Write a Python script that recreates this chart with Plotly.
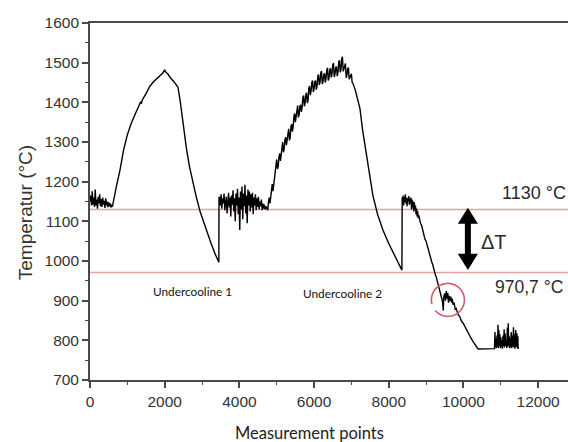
import math
import plotly.graph_objects as go

start_noise = [(0, 1150), (20, 1165), (40, 1140), (60, 1176), (80, 1142), (100, 1160), (120, 1136),
               (140, 1180), (160, 1140), (180, 1155), (200, 1132), (220, 1162), (240, 1145), (260, 1168),
               (280, 1138), (300, 1156), (320, 1136), (340, 1160), (360, 1142), (380, 1152), (400, 1134),
               (420, 1158), (440, 1140), (460, 1150), (480, 1136), (500, 1148), (520, 1138), (540, 1145),
               (560, 1135), (580, 1142), (600, 1137)]

heating_1 = [(620, 1145), (700, 1185), (800, 1228), (900, 1280), (1000, 1318), (1100, 1346), (1200, 1368),
             (1300, 1388), (1350, 1400), (1380, 1398), (1400, 1406), (1500, 1422), (1600, 1440), (1700, 1452),
             (1800, 1461), (1900, 1468), (1950, 1474), (2000, 1482), (2030, 1476), (2080, 1472), (2150, 1462),
             (2250, 1452), (2356, 1438), (2420, 1400), (2500, 1340), (2580, 1285), (2660, 1240), (2750, 1200),
             (2850, 1160), (2950, 1124), (3050, 1095), (3150, 1068), (3250, 1042), (3350, 1018), (3450, 997),
             (3455, 1160)]

hold_1 = [(3470, 1160), (3490, 1140), (3510, 1168), (3530, 1132), (3550, 1158), (3570, 1145), (3590, 1170),
          (3610, 1128), (3630, 1155), (3650, 1162), (3670, 1120), (3690, 1150), (3710, 1172), (3730, 1135),
          (3750, 1160), (3770, 1112), (3790, 1165), (3810, 1142), (3830, 1178), (3850, 1125), (3870, 1158),
          (3890, 1100), (3910, 1170), (3930, 1140), (3950, 1182), (3970, 1118), (3990, 1160), (4010, 1078),
          (4030, 1175), (4050, 1130), (4070, 1188), (4090, 1105), (4110, 1170), (4130, 1138), (4150, 1192),
          (4170, 1120), (4190, 1165), (4210, 1095), (4230, 1180), (4250, 1140), (4270, 1175), (4290, 1125),
          (4310, 1168), (4330, 1135), (4350, 1172), (4370, 1118), (4390, 1160), (4410, 1140), (4430, 1168),
          (4450, 1128), (4470, 1158), (4490, 1136), (4510, 1162), (4530, 1130), (4550, 1150), (4570, 1138),
          (4590, 1155), (4610, 1128), (4630, 1145), (4650, 1132), (4670, 1142), (4690, 1130), (4710, 1138),
          (4730, 1134)]

heating_2 = [(4760, 1128), (4780, 1150), (4800, 1160), (4820, 1145), (4840, 1159), (4860, 1178), (4880, 1194),
             (4900, 1176), (4920, 1190), (4940, 1215), (4960, 1224), (4980, 1236), (5000, 1256), (5020, 1232),
             (5040, 1239), (5060, 1262), (5080, 1271), (5100, 1252), (5120, 1268), (5140, 1290), (5160, 1300),
             (5180, 1274), (5200, 1283), (5220, 1305), (5240, 1312), (5260, 1292), (5280, 1306), (5300, 1325),
             (5320, 1333), (5340, 1304), (5360, 1311), (5380, 1338), (5400, 1345), (5420, 1326), (5440, 1338),
             (5460, 1364), (5480, 1372), (5500, 1350), (5520, 1363), (5540, 1385), (5560, 1392), (5580, 1362),
             (5600, 1369), (5620, 1390), (5640, 1394), (5660, 1376), (5680, 1387), (5700, 1412), (5720, 1417),
             (5740, 1390), (5760, 1398), (5780, 1420), (5800, 1424), (5820, 1398), (5840, 1406), (5860, 1436),
             (5880, 1441), (5900, 1418), (5920, 1428), (5940, 1450), (5960, 1455), (5980, 1426), (6000, 1434),
             (6020, 1452), (6040, 1455), (6060, 1432), (6080, 1440), (6100, 1466), (6120, 1470), (6140, 1444),
             (6160, 1451), (6180, 1475), (6200, 1479), (6220, 1446), (6240, 1452), (6260, 1470), (6280, 1473),
             (6300, 1450), (6320, 1459), (6340, 1482), (6360, 1487), (6380, 1455), (6400, 1460), (6420, 1482),
             (6440, 1486), (6460, 1463), (6480, 1471), (6500, 1494), (6520, 1499), (6540, 1464), (6560, 1471),
             (6580, 1488), (6600, 1490), (6620, 1466), (6640, 1474), (6660, 1502), (6680, 1506), (6700, 1476),
             (6720, 1482), (6740, 1510), (6760, 1515), (6780, 1478), (6800, 1485), (6820, 1495), (6840, 1498),
             (6860, 1462), (6880, 1468), (6900, 1484), (6920, 1488), (6940, 1458), (6960, 1464), (6980, 1470),
             (7000, 1472), (7020, 1450), (7040, 1448)]

cooling_2 = [(7100, 1432), (7160, 1412), (7228, 1385), (7300, 1330), (7400, 1270), (7495, 1212), (7576, 1165),
             (7700, 1118), (7844, 1078), (8000, 1044), (8150, 1015), (8250, 995), (8352, 977), (8360, 1160)]

hold_2 = [(8370, 1150), (8385, 1165), (8400, 1140), (8415, 1162), (8430, 1148), (8445, 1168), (8460, 1145),
          (8475, 1160), (8490, 1138), (8505, 1158), (8520, 1150), (8535, 1164), (8550, 1142), (8565, 1158),
          (8580, 1145), (8595, 1160), (8610, 1130), (8625, 1155), (8640, 1135), (8655, 1150), (8670, 1125),
          (8685, 1148), (8700, 1130), (8715, 1140), (8730, 1118), (8745, 1132), (8760, 1112), (8775, 1125),
          (8790, 1108), (8805, 1115)]

solidification = [(8820, 1108), (8850, 1095), (8880, 1090), (8910, 1075), (8940, 1068), (8970, 1055), (9000, 1050),
                  (9030, 1038), (9060, 1032), (9090, 1018), (9120, 1010), (9150, 998), (9180, 990), (9210, 975),
                  (9240, 968), (9270, 960), (9300, 948), (9330, 940), (9360, 928), (9390, 918), (9420, 905),
                  (9440, 898), (9460, 875), (9475, 910), (9500, 918), (9520, 900), (9540, 924), (9560, 905),
                  (9580, 920), (9600, 895), (9620, 912), (9640, 900), (9660, 910), (9680, 895), (9700, 905),
                  (9720, 890), (9750, 895), (9780, 878), (9810, 880), (9850, 866), (9900, 860), (9950, 848),
                  (10000, 842), (10050, 832), (10092, 824), (10150, 815), (10200, 806), (10250, 798), (10300, 790),
                  (10350, 784), (10387, 779)]

end_flat = [(10400, 778), (10800, 778), (10830, 779), (10845, 821), (10855, 782), (10870, 805), (10880, 780),
            (10900, 812), (10912, 784), (10925, 839), (10935, 781), (10950, 826), (10962, 786), (10975, 815),
            (10988, 780), (11000, 808), (11015, 783), (11030, 800), (11045, 779), (11060, 812), (11075, 785),
            (11090, 828), (11100, 782), (11115, 818), (11130, 786), (11145, 800), (11160, 781), (11175, 832),
            (11190, 784), (11200, 843), (11212, 788), (11225, 810), (11238, 780), (11250, 805), (11265, 783),
            (11280, 821), (11292, 780), (11310, 812), (11325, 784), (11340, 833), (11352, 782), (11368, 815),
            (11380, 779), (11400, 826), (11415, 784), (11430, 818), (11445, 780), (11457, 810), (11465, 778)]

threshold_values = [1130, 970.7]
threshold_labels = ["1130 °C", "970,7 °C"]
x_ticks = [0, 2000, 4000, 6000, 8000, 10000, 12000]
x_tick_text = ["0", "2000", "4000", "6000", "8000", "10000", "12000"]
y_ticks = [700, 800, 900, 1000, 1100, 1200, 1300, 1400, 1500, 1600]

segments = [start_noise, heating_1, hold_1, heating_2, cooling_2, hold_2, solidification, end_flat]
xs = [p[0] for s in segments for p in s]
ys = [p[1] for s in segments for p in s]

SANS = "Liberation Sans, Arial, sans-serif"
TICKFONT = dict(family=SANS, size=15.5, color="#333333")
AX = "#4a4a4a"
RED = "#e3a3a3"

fig = go.Figure()
fig.add_trace(go.Scatter(x=xs, y=ys, mode="lines", line=dict(color="black", width=1.4),
                         showlegend=False, hoverinfo="skip"))

for v in threshold_values:
    fig.add_shape(type="line", xref="x", yref="y", x0=0, x1=12800, y0=v, y1=v,
                  line=dict(color=RED, width=1.5), layer="below")

fig.add_annotation(x=10976, y=1171, xref="x", yref="y", text=threshold_labels[0], showarrow=False,
                   xanchor="left", yanchor="middle", font=dict(family=SANS, size=18, color="#2a2a2a"))
fig.add_annotation(x=10790, y=934, xref="x", yref="y", text=threshold_labels[1], showarrow=False,
                   xanchor="left", yanchor="middle", font=dict(family=SANS, size=17.5, color="#2a2a2a"))
fig.add_annotation(x=10815, y=1048, xref="x", yref="y", text="ΔT", showarrow=False,
                   xanchor="center", yanchor="middle", font=dict(family=SANS, size=20, color="#2a2a2a"))

# double arrow (ΔT)
cx = 10119
hw = 268
sw = 80
arrow_path = (f"M {cx},1134 L {cx+hw},1094 L {cx+sw},1094 L {cx+sw},1018 L {cx+hw},1018 "
              f"L {cx},977 L {cx-hw},1018 L {cx-sw},1018 L {cx-sw},1094 L {cx-hw},1094 Z")
fig.add_shape(type="path", xref="x", yref="y", path=arrow_path, fillcolor="black",
              line=dict(color="black", width=0))

# red circle marking the recalescence
r = 16.5
pts = []
for i in range(0, 49):
    a = math.radians(195 - i * (335 / 48))
    pts.append((r * math.cos(a), r * math.sin(a)))
circ = "M " + " L ".join(f"{px:.2f},{py:.2f}" for px, py in pts)
fig.add_shape(type="path", xref="x", yref="y", xsizemode="pixel", ysizemode="pixel",
              xanchor=9584, yanchor=902, path=circ, line=dict(color="#d95a66", width=1.6))

fig.add_annotation(x=2744, y=922, xref="x", yref="y", text="Undercooline 1", showarrow=False,
                   font=dict(family="Lato, sans-serif", size=11.8, color="#111"))
fig.add_annotation(x=6773, y=919, xref="x", yref="y", text="Undercooline 2", showarrow=False,
                   font=dict(family="Lato, sans-serif", size=11.8, color="#111"))

fig.add_annotation(x=0.46, y=-0.1485, xref="paper", yref="paper", text="Measurement points", showarrow=False,
                   xanchor="center", yanchor="middle", font=dict(family="Lato, sans-serif", size=16.5, color="#222"))
fig.add_annotation(x=-0.136, y=0.47, xref="paper", yref="paper", text="Temperatur (°C)", showarrow=False,
                   textangle=-90, xanchor="center", yanchor="middle",
                   font=dict(family=SANS, size=19, color="#333"))

fig.update_xaxes(range=[0, 12800], tickvals=x_ticks, ticktext=x_tick_text, ticks="outside", ticklen=6,
                 tickwidth=1.5, tickcolor=AX,
                 showline=True, linecolor=AX, linewidth=1.8, mirror=True, showgrid=False, zeroline=False,
                 tickfont=TICKFONT,
                 minor=dict(dtick=1000, tick0=0, ticks="outside", ticklen=3, tickwidth=1.2, tickcolor=AX, showgrid=False))
fig.update_yaxes(range=[700, 1600], tickvals=y_ticks, ticks="outside", ticklen=6, tickwidth=1.5, tickcolor=AX,
                 showline=True, linecolor=AX, linewidth=1.8, mirror=False, showgrid=False, zeroline=False,
                 tickfont=TICKFONT,
                 minor=dict(dtick=50, tick0=700, ticks="outside", ticklen=3, tickwidth=1.2, tickcolor=AX, showgrid=False))

fig.update_layout(width=568, height=442, margin=dict(l=90, r=0, t=23, b=62),
                  paper_bgcolor="white", plot_bgcolor="white")

fig.write_html("out.html")
